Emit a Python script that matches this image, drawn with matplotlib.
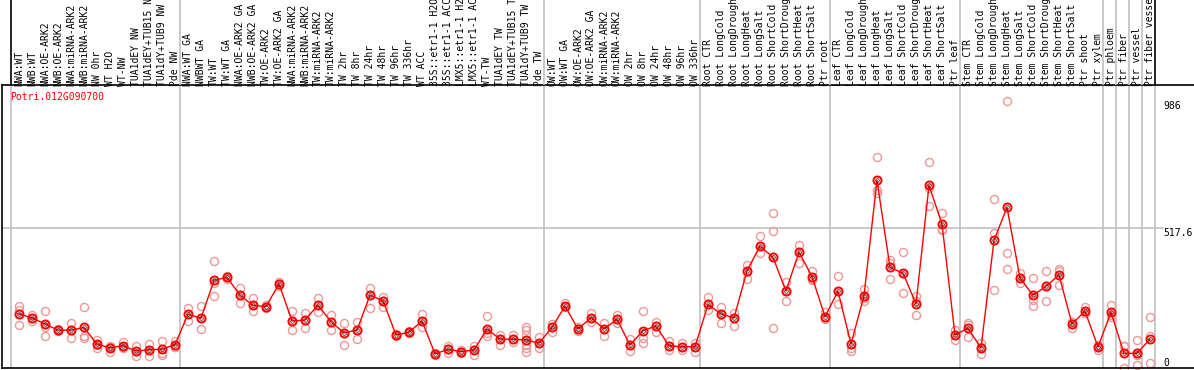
import matplotlib
matplotlib.use("Agg")
import matplotlib.pyplot as plt

gene = "Potri.012G090700"

labels = [
    "NWA:WT", "NWB:WT", "NWA:OE-ARK2", "NWB:OE-ARK2", "NWA:miRNA-ARK2",
    "NWB:miRNA-ARK2", "NW 0hr", "WT H2O", "WT-NW", "TUA1dEY NW",
    "TUA1dEY+TUB15 NW", "TUA1dY+TUB9 NW", "Pde NW",
    "NWA:WT GA", "NWBWT GA", "TW:WT", "TW:WT GA", "NWA:OE-ARK2 GA",
    "NWB:OE-ARK2 GA", "TW:OE-ARK2", "TW:OE-ARK2 GA", "NWA:miRNA-ARK2",
    "NWB:miRNA-ARK2", "TW:miRNA-ARK2", "TW:miRNA-ARK2", "TW 2hr", "TW 8hr",
    "TW 24hr", "TW 48hr", "TW 96hr", "TW 336hr", "WT ACC", "35S::etr1-1 H2O",
    "35S::etr1-1 ACC", "LMX5::etr1-1 H2O", "LMX5::etr1-1 ACC", "WT-TW",
    "TUA1dEY TW", "TUA1dEY+TUB15 TW", "TUA1dY+TUB9 TW", "Pde TW",
    "OW:WT", "OW:WT GA", "OW:OE-ARK2", "OW:OE-ARK2 GA", "OW:miRNA-ARK2",
    "OW:miRNA-ARK2", "OW 2hr", "OW 8hr", "OW 24hr", "OW 48hr", "OW 96hr",
    "OW 336hr",
    "Root CTR", "Root LongCold", "Root LongDrought", "Root LongHeat",
    "Root LongSalt", "Root ShortCold", "Root ShortDrought", "Root ShortHeat",
    "Root ShortSalt", "Ptr root",
    "Leaf CTR", "Leaf LongCold", "Leaf LongDrought", "Leaf LongHeat",
    "Leaf LongSalt", "Leaf ShortCold", "Leaf ShortDrought", "Leaf ShortHeat",
    "Leaf ShortSalt", "Ptr leaf",
    "Stem CTR", "Stem LongCold", "Stem LongDrought", "Stem LongHeat",
    "Stem LongSalt", "Stem ShortCold", "Stem ShortDrought", "Stem ShortHeat",
    "Stem ShortSalt", "Ptr shoot", "Ptr xylem",
    "Ptr phloem", "Ptr fiber", "Ptr vessel", "Ptr fiber vessel",
]

# group separators (index of first column of each group)
groups = [0, 13, 41, 53, 63, 73, 84, 85, 86, 87, 88]

means = [
    200, 185, 163, 140, 140, 150, 88, 75, 82, 63, 67, 70, 86,
    199, 184, 324, 335, 269, 232, 227, 311, 174, 177, 233, 171, 130, 140,
    269, 249, 122, 132, 174, 52, 69, 60, 67, 144, 107, 106, 104, 92,
    150, 229, 144, 186, 144, 180, 85, 138, 155, 82, 79, 78,
    235, 200, 185, 359, 451, 409, 285, 429, 338, 190,
    284, 89, 267, 694, 372, 351, 237, 675, 532, 122,
    147, 74, 472, 594, 332, 269, 302, 344, 163, 210, 78,
    206, 54, 54, 107,
]

reps = [
    [229, 158, 213], [197, 175, 185], [211, 119, 153], [143, 138, 140],
    [167, 110, 140], [224, 119, 110], [104, 75, 85], [60, 79, 81],
    [97, 79, 73], [82, 44, 63], [89, 44, 67], [101, 54, 48], [101, 79, 79],
    [221, 175, 199], [229, 143, 184], [394, 266, 313], [341, 329, 335],
    [295, 239, 269], [258, 210, 232], [227, 222, 232], [319, 304, 311],
    [211, 140, 174], [202, 147, 177], [260, 208, 233], [196, 140, 171],
    [165, 85, 130], [169, 107, 140], [295, 221, 269], [264, 224, 249],
    [126, 118, 122], [136, 128, 132], [199, 153, 174], [57, 48, 52],
    [82, 54, 69], [60, 65, 57], [81, 48, 67], [192, 118, 128],
    [122, 85, 107], [122, 97, 106], [153, 140, 122, 85, 73, 60],
    [113, 73, 92],
    [163, 134, 150], [239, 224, 229], [152, 137, 144], [204, 171, 186],
    [167, 119, 144], [196, 167, 180], [106, 63, 85], [212, 112, 91],
    [171, 134, 155], [101, 67, 82], [92, 67, 78], [94, 60, 78],
    [262, 216, 235], [224, 165, 200], [204, 155, 185], [381, 328, 359],
    [488, 424, 451], [572, 506, 147], [319, 248, 285], [455, 387, 429],
    [359, 329, 327], [208, 180, 190],
    [340, 237, 284], [131, 64, 73], [292, 249, 260], [779, 658, 646],
    [399, 328, 387], [428, 277, 351], [267, 196, 248], [762, 599, 664],
    [572, 513, 511], [140, 104, 122],
    [167, 116, 158], [91, 52, 79], [625, 500, 288], [986, 424, 365],
    [352, 315, 332], [332, 251, 229], [359, 248, 302], [366, 307, 359],
    [171, 147, 170], [224, 202, 205], [85, 67, 82], [233, 190, 196],
    [81, 0, 81], [104, 10, 48], [187, 17, 117],
]

max_val = 986
top = max_val * 1.05

W, H = 1194, 370
fig = plt.figure(figsize=(W / 100, H / 100), dpi=100)

# column i sits at x = 19 + 13*i px
x_lo = (2 - 19) / 13
x_hi = (W - 19) / 13
sep = [g - 8 / 13 for g in groups]

ax = fig.add_axes([2 / W, 2 / H, (W - 2) / W, 283 / H])
ax.set_xlim(x_lo, x_hi)
ax.set_ylim(0, top * 283 / 280)
ax.set_xticks([])
ax.set_yticks([])
for s in ["left", "top", "bottom"]:
    ax.spines[s].set_color("black")
    ax.spines[s].set_linewidth(1.2)
ax.spines["right"].set_visible(False)

for s in sep:
    ax.axvline(s, color="#c0c0c0", lw=1.2, zorder=1)
ax.axhline(top / 2, xmax=(1163 - 2) / (W - 2), color="#c0c0c0", lw=1.2, zorder=1)

xs = list(range(len(means)))
for i, r in enumerate(reps):
    ax.plot([i] * len(r), r, "o", ms=5.8, mfc="none", mec="#ee9999",
            mew=1.0, zorder=2, clip_on=False)
ax.plot(xs, means, "-", color="red", lw=1.0, zorder=3)
ax.plot(xs, means, "o", ms=5.8, mfc="none", mec="red", mew=1.4, zorder=4)
ax.plot(xs, means, "o", ms=2.6, mfc="none", mec="#400000", mew=0.5, zorder=5)

mono = "DejaVu Sans Mono"
ax.text((10 - 2) / (W - 2), (368 - 97) / 283, gene, transform=ax.transAxes,
        color="red", fontsize=7, family=mono, ha="left", va="center")

xr = (1163 - 19) / 13
ax.text(xr, max_val, "986", fontsize=7, family=mono, ha="left", va="top")
ax.text(xr, top / 2, "517.6", fontsize=7, family=mono, ha="left", va="top")
ax.text(xr, 0, "0", fontsize=7, family=mono, ha="left", va="bottom")

# label strip above the plot
lab = fig.add_axes([2 / W, 285 / H, (W - 2) / W, 85 / H])
lab.set_xlim(x_lo, x_hi)
lab.set_ylim(0, 85)
lab.axis("off")
for k, s in enumerate(sep):
    c = "black" if k in (0, len(sep) - 1) else "#c0c0c0"
    lab.axvline(s, color=c, lw=1.2)
for i, name in enumerate(labels):
    lab.text(i, -1.5, name, rotation=90, ha="center", va="bottom",
             fontsize=7, family=mono, clip_on=False)

fig.savefig("out.png", dpi=100)
